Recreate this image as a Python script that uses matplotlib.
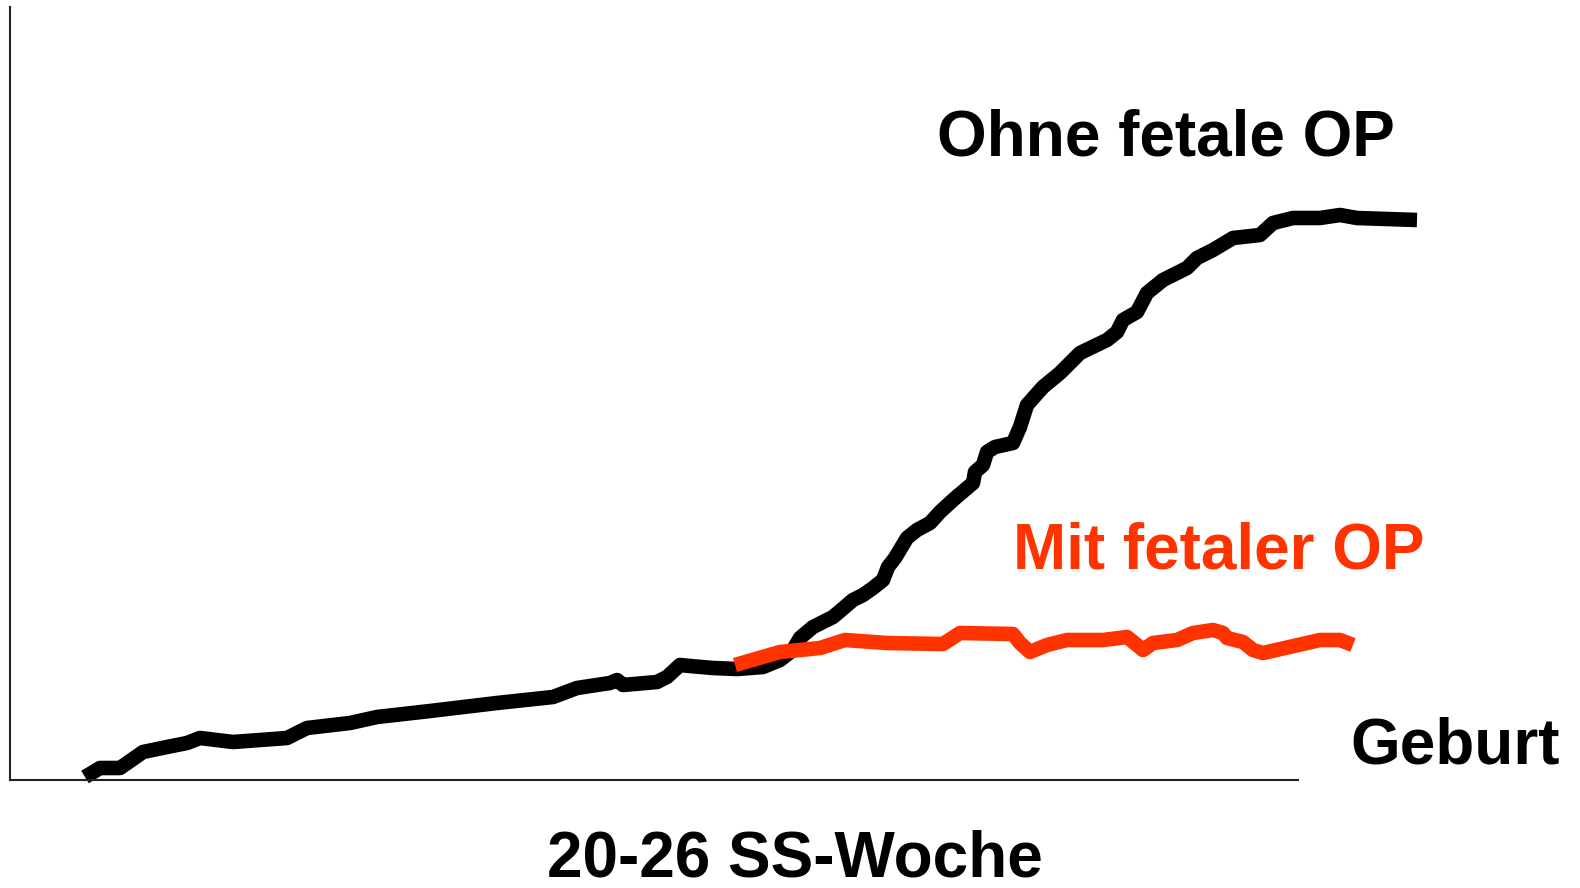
import matplotlib.pyplot as plt

# schematic curves (arbitrary units, x = time, y = severity)
ohne_x = [75, 90, 110, 133, 157, 177, 190, 223, 277, 297, 340, 367, 420, 487, 543, 567,
          600, 607, 613, 647, 657, 670, 680, 703, 727, 753, 770, 783, 790, 803, 823, 843,
          853, 863, 873, 878, 885, 897, 907, 920, 930, 943, 963, 965, 973, 977, 985, 1003,
          1010, 1017, 1033, 1050, 1070, 1097, 1107, 1113, 1127, 1137, 1153, 1177, 1187, 1203,
          1223, 1250, 1263, 1283, 1310, 1330, 1347, 1407]
ohne_y = [3, 12, 12, 28, 33, 37, 42, 38, 42, 52, 57, 63, 69, 77, 83, 92,
          97, 100, 95, 98, 103, 115, 114, 112, 111, 113, 120, 130, 142, 153, 163, 180,
          185, 192, 200, 213, 222, 242, 250, 257, 268, 280, 297, 308, 315, 328, 333, 337,
          353, 375, 393, 407, 427, 440, 448, 460, 468, 487, 500, 512, 522, 530,
          542, 545, 557, 562, 562, 565, 562, 560]

mit_x = [725, 770, 810, 835, 877, 933, 950, 1003, 1010, 1020, 1037, 1057, 1093, 1117,
         1127, 1133, 1143, 1167, 1183, 1203, 1213, 1217, 1233, 1243, 1253, 1310, 1330, 1343]
mit_y = [115, 128, 132, 140, 137, 136, 147, 146, 137, 128, 135, 140, 140, 143,
         135, 130, 137, 140, 147, 150, 147, 142, 138, 130, 127, 140, 140, 135]

labels = ["Ohne fetale OP", "Mit fetaler OP", "Geburt", "20-26 SS-Woche"]

W, H = 1580, 888
fig = plt.figure(figsize=(W / 100, H / 100), dpi=100)
ax = fig.add_axes([10 / W, (H - 780) / H, (1298 - 10) / W, (780 - 7) / H])
ax.set_xlim(0, 1288)
ax.set_ylim(0, 773)
for s in ["top", "right"]:
    ax.spines[s].set_visible(False)
for s in ["left", "bottom"]:
    ax.spines[s].set_color("#222222")
    ax.spines[s].set_linewidth(1.5)
ax.set_xticks([])
ax.set_yticks([])

ax.plot(ohne_x, ohne_y, color="black", lw=10.5, solid_capstyle="butt",
        solid_joinstyle="round", clip_on=False)
ax.plot(mit_x, mit_y, color="#ff3300", lw=10.5, solid_capstyle="butt",
        solid_joinstyle="round", clip_on=False)

font = dict(family=["Liberation Sans", "DejaVu Sans"], fontweight="bold", fontsize=46)
fig.text(937 / W, 1 - 156 / H, labels[0], color="black", va="baseline", **font)
fig.text(1013 / W, 1 - 568 / H, labels[1], color="#ff3300", va="baseline", **font)
fig.text(1350 / W, 1 - 763 / H, labels[2], color="black", va="baseline", **font)
fig.text(547 / W, 1 - 876 / H, labels[3], color="black", va="baseline", **font)

fig.savefig("out.png", dpi=100)
